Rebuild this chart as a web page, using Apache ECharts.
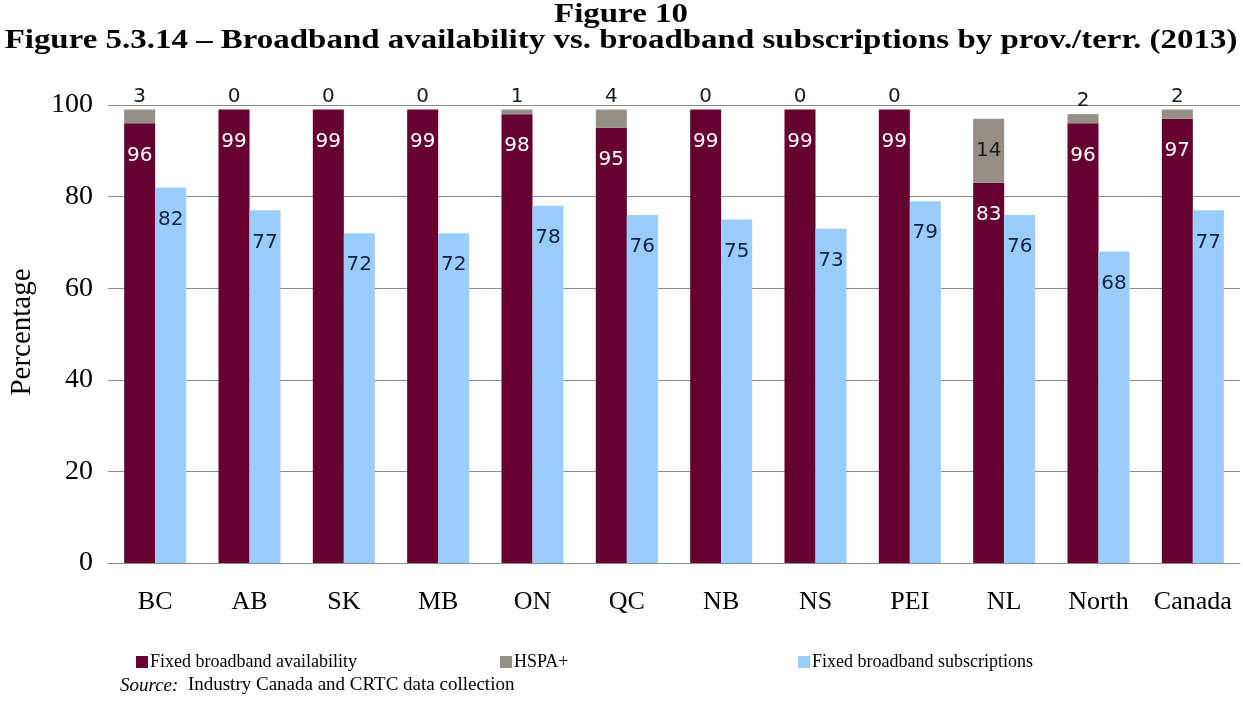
<!DOCTYPE html>
<html>
<head>
<meta charset="utf-8">
<script src="https://cdn.jsdelivr.net/npm/echarts@6/dist/echarts.min.js"></script>
<style>
  html, body { margin: 0; padding: 0; background: #ffffff; }
  #chart { width: 1243px; height: 711px; }
</style>
</head>
<body>
<div id="chart"></div>
<script>
// Broadband availability vs. subscriptions by province/territory, 2013
const categories = ['BC', 'AB', 'SK', 'MB', 'ON', 'QC', 'NB', 'NS', 'PEI', 'NL', 'North', 'Canada'];
const availability = [96, 99, 99, 99, 98, 95, 99, 99, 99, 83, 96, 97];
const hspa = [3, 0, 0, 0, 1, 4, 0, 0, 0, 14, 2, 2];
const subscriptions = [82, 77, 72, 72, 78, 76, 75, 73, 79, 76, 68, 77];
const yTicks = [0, 20, 40, 60, 80, 100];

const SERIF = '"Liberation Serif", "Times New Roman", serif';
const SANS = '"DejaVu Sans", Verdana, sans-serif';
const MAROON = '#66002e';
const GREY = '#958e86';
const BLUE = '#99ccff';

const chart = echarts.init(document.getElementById('chart'), null, { renderer: 'canvas' });

// HSPA+ labels sit above the stack, except where the segment is tall enough to hold it
const hspaData = hspa.map(v => v >= 10
  ? { value: v, label: { position: 'inside', color: '#1a1a1a' } }
  : v);

// Title lines are set in a wide bold serif
function titleLine(text, y) {
  return {
    type: 'text', x: 621, y: y, scaleX: 1.22, originX: 0, originY: 0,
    style: {
      text: text, x: 0, y: 0, align: 'center', verticalAlign: 'middle',
      fontFamily: SERIF, fontWeight: 'bold', fontSize: 27, fill: '#000'
    }
  };
}

const option = {
  animation: false,
  backgroundColor: '#ffffff',
  legend: [
    { data: ['Fixed broadband availability'], left: 131, top: 648 },
    { data: ['HSPA+'], left: 495, top: 648 },
    { data: ['Fixed broadband subscriptions'], left: 793, top: 648 }
  ].map(l => Object.assign(l, {
    icon: 'rect', itemWidth: 12, itemHeight: 12, itemGap: 0,
    textStyle: { fontFamily: SERIF, fontSize: 18, color: '#000', padding: [0, 0, 0, -3] }
  })),
  graphic: [
    titleLine('Figure 10', 15),
    titleLine('Figure 5.3.14 \u2013 Broadband availability vs. broadband subscriptions by prov./terr. (2013)', 41),
    {
      // vertical axis title
      type: 'text', x: 22, y: 332, rotation: Math.PI / 2,
      style: {
        text: 'Percentage', x: 0, y: 0, align: 'center', verticalAlign: 'middle',
        fontFamily: SERIF, fontSize: 29, fill: '#000'
      }
    },
    {
      type: 'text', left: 120, top: 676,
      style: {
        text: '{i|Source:}  Industry Canada and CRTC data collection',
        fontFamily: SERIF, fontSize: 19, fill: '#000',
        rich: { i: { fontFamily: SERIF, fontSize: 19, fontStyle: 'italic', fill: '#000' } }
      }
    }
  ],
  grid: { left: 108, right: 3, top: 105, bottom: 148, containLabel: false, outerBoundsMode: 'none' },
  xAxis: {
    type: 'category',
    data: categories,
    axisLine: { show: true, lineStyle: { color: '#8c8c8c', width: 1 } },
    axisTick: { show: false },
    axisLabel: { interval: 0, fontFamily: SERIF, fontSize: 26, color: '#000', margin: 26 }
  },
  yAxis: {
    type: 'value',
    min: yTicks[0], max: yTicks[yTicks.length - 1], interval: 20,
    axisLine: { show: false },
    axisTick: { show: false },
    axisLabel: { fontFamily: SERIF, fontSize: 28, color: '#000', margin: 15 },
    splitLine: { show: true, lineStyle: { color: '#8c8c8c', width: 1 } }
  },
  series: [
    {
      name: 'Fixed broadband availability',
      type: 'bar', stack: 'avail',
      barWidth: 31, barGap: '0%',
      itemStyle: { color: MAROON },
      label: {
        show: true, position: 'insideTop', distance: 22,
        fontFamily: SANS, fontSize: 20, color: '#ffffff'
      },
      data: availability
    },
    {
      name: 'HSPA+',
      type: 'bar', stack: 'avail',
      barWidth: 31, barGap: '0%',
      itemStyle: { color: GREY },
      label: {
        show: true, position: 'top', distance: 3,
        fontFamily: SANS, fontSize: 20, color: '#1a1a1a'
      },
      data: hspaData
    },
    {
      name: 'Fixed broadband subscriptions',
      type: 'bar',
      barWidth: 31, barGap: '0%',
      itemStyle: { color: BLUE },
      label: {
        show: true, position: 'insideTop', distance: 22,
        fontFamily: SANS, fontSize: 20, color: '#14213d'
      },
      data: subscriptions
    }
  ]
};

chart.setOption(option);
</script>
</body>
</html>
